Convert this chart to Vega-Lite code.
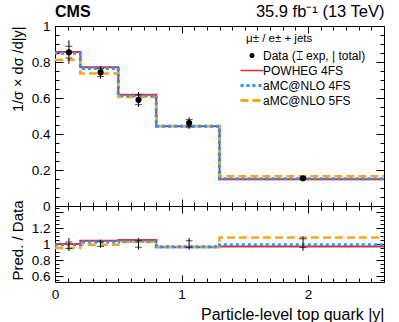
{
  "$schema": "https://vega.github.io/schema/vega-lite/v6.json",
  "padding": {"left": 9, "top": 3, "right": 5, "bottom": 5},
  "background": "white",
  "bounds": "flush",
  "config": {
    "font": "Liberation Sans",
    "view": {"stroke": "black", "strokeWidth": 1},
    "axis": {
      "domain": false, "grid": false, "tickColor": "black", "tickWidth": 1,
      "labelColor": "black", "titleColor": "black", "labelFontSize": 13.5, "titleFontSize": 14.5,
      "titleFontWeight": "normal", "labelFont": "Liberation Sans", "titleFont": "Liberation Sans",
      "labelOverlap": false, "labelFlush": false
    },
    "legend": {"labelFont": "Liberation Sans", "titleFont": "Liberation Sans"}
  },
  "datasets": {
    "main_pred": [
      {"series": "POWHEG 4FS", "x": 0, "y": 0.855}, {"series": "POWHEG 4FS", "x": 0.2, "y": 0.771},
      {"series": "POWHEG 4FS", "x": 0.5, "y": 0.618}, {"series": "POWHEG 4FS", "x": 0.8, "y": 0.443},
      {"series": "POWHEG 4FS", "x": 1.3, "y": 0.148}, {"series": "POWHEG 4FS", "x": 2.6, "y": 0.148},
      {"series": "aMC@NLO 4FS", "x": 0, "y": 0.848}, {"series": "aMC@NLO 4FS", "x": 0.2, "y": 0.764},
      {"series": "aMC@NLO 4FS", "x": 0.5, "y": 0.613}, {"series": "aMC@NLO 4FS", "x": 0.8, "y": 0.443},
      {"series": "aMC@NLO 4FS", "x": 1.3, "y": 0.151}, {"series": "aMC@NLO 4FS", "x": 2.6, "y": 0.151},
      {"series": "aMC@NLO 5FS", "x": 0, "y": 0.813}, {"series": "aMC@NLO 5FS", "x": 0.2, "y": 0.736},
      {"series": "aMC@NLO 5FS", "x": 0.5, "y": 0.606}, {"series": "aMC@NLO 5FS", "x": 0.8, "y": 0.445},
      {"series": "aMC@NLO 5FS", "x": 1.3, "y": 0.165}, {"series": "aMC@NLO 5FS", "x": 2.6, "y": 0.165}
    ],
    "main_data": [
      {"x": 0.11, "y": 0.854, "tlo": 0.79, "thi": 0.92, "elo": 0.822, "ehi": 0.887},
      {"x": 0.36, "y": 0.743, "tlo": 0.707, "thi": 0.776, "elo": 0.72, "ehi": 0.763},
      {"x": 0.66, "y": 0.59, "tlo": 0.55, "thi": 0.633, "elo": 0.563, "ehi": 0.618},
      {"x": 1.06, "y": 0.461, "tlo": 0.428, "thi": 0.493, "elo": 0.439, "ehi": 0.48},
      {"x": 1.96, "y": 0.154, "tlo": 0.146, "thi": 0.162, "elo": 0.15, "ehi": 0.158}
    ],
    "ratio_pred": [
      {"series": "POWHEG 4FS", "x": 0, "y": 1.005}, {"series": "POWHEG 4FS", "x": 0.2, "y": 1.045},
      {"series": "POWHEG 4FS", "x": 0.5, "y": 1.055}, {"series": "POWHEG 4FS", "x": 0.8, "y": 0.965},
      {"series": "POWHEG 4FS", "x": 1.3, "y": 0.975}, {"series": "POWHEG 4FS", "x": 2.6, "y": 0.975},
      {"series": "aMC@NLO 4FS", "x": 0, "y": 0.995}, {"series": "aMC@NLO 4FS", "x": 0.2, "y": 1.03},
      {"series": "aMC@NLO 4FS", "x": 0.5, "y": 1.04}, {"series": "aMC@NLO 4FS", "x": 0.8, "y": 0.97},
      {"series": "aMC@NLO 4FS", "x": 1.3, "y": 0.995}, {"series": "aMC@NLO 4FS", "x": 2.6, "y": 0.995},
      {"series": "aMC@NLO 5FS", "x": 0, "y": 0.955}, {"series": "aMC@NLO 5FS", "x": 0.2, "y": 0.995},
      {"series": "aMC@NLO 5FS", "x": 0.5, "y": 1.03}, {"series": "aMC@NLO 5FS", "x": 0.8, "y": 0.97},
      {"series": "aMC@NLO 5FS", "x": 1.3, "y": 1.085}, {"series": "aMC@NLO 5FS", "x": 2.6, "y": 1.085}
    ],
    "ratio_data": [
      {"x": 0.11, "y": 1, "tlo": 0.917, "thi": 1.08, "elo": 0.95, "ehi": 1.03},
      {"x": 0.36, "y": 1, "tlo": 0.957, "thi": 1.06, "elo": 0.975, "ehi": 1.03},
      {"x": 0.66, "y": 1, "tlo": 0.935, "thi": 1.08, "elo": 0.965, "ehi": 1.045},
      {"x": 1.06, "y": 1, "tlo": 0.935, "thi": 1.08, "elo": 0.965, "ehi": 1.045},
      {"x": 1.96, "y": 1, "tlo": 0.92, "thi": 1.1, "elo": 0.96, "ehi": 1.07}
    ]
  },
  "spacing": 0,
  "vconcat": [
    {
      "width": 329,
      "height": 180,
      "title": {"text": "CMS", "anchor": "start", "frame": "group", "fontSize": 16, "fontWeight": "bold", "font": "Liberation Sans", "offset": -16},
      "resolve": {"axis": {"x": "independent", "y": "independent"}},
      "layer": [
        {
          "data": {"name": "main_pred"},
          "transform": [{"filter": "datum.series === 'POWHEG 4FS'"}],
          "mark": {"type": "line", "interpolate": "step-after", "strokeWidth": 2},
          "encoding": {
            "x": {"field": "x", "type": "quantitative", "scale": {"domain": [0, 2.6], "nice": false, "zero": false},
              "axis": {"orient": "bottom", "title": null, "values": [0,0.1,0.2,0.3,0.4,0.5,0.6,0.7,0.8,0.9,1,1.1,1.2,1.3,1.4,1.5,1.6,1.7,1.8,1.9,2,2.1,2.2,2.3,2.4,2.5,2.6],
                "labels": false, "tickSize": {"condition": {"test": "datum.value % 1 === 0", "value": -7}, "value": -4}}},
            "y": {"field": "y", "type": "quantitative", "scale": {"domain": [0, 1], "nice": false, "zero": false},
              "axis": {"orient": "left", "title": "1/σ × dσ /d|y|", "titleAnchor": "end", "titlePadding": 6,
                "values": [0,0.05,0.1,0.15,0.2,0.25,0.3,0.35,0.4,0.45,0.5,0.55,0.6,0.65,0.7,0.75,0.8,0.85,0.9,0.95,1],
                "labelExpr": "abs(datum.value*5 - round(datum.value*5)) < 1e-6 ? format(datum.value, '~g') : ''",
                "labelPadding": 13,
                "tickSize": {"condition": {"test": "abs(datum.value*5 - round(datum.value*5)) < 1e-6", "value": -8}, "value": -4}}},
            "color": {"field": "series", "type": "nominal",
              "scale": {"domain": ["Data", "POWHEG 4FS", "aMC@NLO 4FS", "aMC@NLO 5FS"], "range": ["black", "#e42a2f", "#2b96f0", "#f9a61a"]},
              "legend": {
                "orient": "none", "legendX": 191, "legendY": 7, "title": "μ± / e± + jets",
                "titleFontSize": 11.5, "titleFontWeight": "normal", "titleColor": "black", "titlePadding": 5,
                "labelFontSize": 12, "labelColor": "black", "labelOffset": 5, "rowPadding": 3, "padding": 0,
                "symbolSize": 100,
                "labelExpr": "datum.value === 'Data' ? 'Data (⌶ exp, | total)' : datum.label",
                "encode": {"symbols": {"update": {
                  "shape": {"signal": "datum.value === 'Data' ? 'circle' : 'stroke'"},
                  "size": {"signal": "datum.value === 'Data' ? 25 : 529"},
                  "fill": {"signal": "datum.value === 'Data' ? 'black' : 'transparent'"},
                  "stroke": {"signal": "datum.value === 'Data' ? 'black' : datum.value === 'POWHEG 4FS' ? '#e42a2f' : datum.value === 'aMC@NLO 4FS' ? '#2b96f0' : '#f9a61a'"},
                  "strokeWidth": {"signal": "datum.value === 'Data' ? 0 : datum.value === 'POWHEG 4FS' ? 1.5 : 3"},
                  "strokeDash": {"signal": "datum.value === 'aMC@NLO 4FS' ? [3, 3] : datum.value === 'aMC@NLO 5FS' ? [8, 4] : [1, 0]"},
                  "opacity": {"value": 1}
                }}}
              }}
          }
        },
        {
          "data": {"name": "main_pred"},
          "transform": [{"filter": "datum.series === 'aMC@NLO 5FS'"}],
          "mark": {"type": "line", "interpolate": "step-after", "strokeWidth": 2.5, "strokeDash": [8, 4]},
          "encoding": {
            "x": {"field": "x", "type": "quantitative",
              "axis": {"orient": "top", "title": "35.9 fb⁻¹ (13 TeV)", "titleAnchor": "end", "titlePadding": 6, "titleFontSize": 16.5,
                "values": [0,0.1,0.2,0.3,0.4,0.5,0.6,0.7,0.8,0.9,1,1.1,1.2,1.3,1.4,1.5,1.6,1.7,1.8,1.9,2,2.1,2.2,2.3,2.4,2.5,2.6],
                "labels": false, "tickSize": {"condition": {"test": "datum.value % 1 === 0", "value": -7}, "value": -4}}},
            "y": {"field": "y", "type": "quantitative",
              "axis": {"orient": "right", "title": null, "labels": false,
                "values": [0,0.05,0.1,0.15,0.2,0.25,0.3,0.35,0.4,0.45,0.5,0.55,0.6,0.65,0.7,0.75,0.8,0.85,0.9,0.95,1],
                "tickSize": {"condition": {"test": "abs(datum.value*5 - round(datum.value*5)) < 1e-6", "value": -8}, "value": -4}}},
            "color": {"field": "series", "type": "nominal"}
          }
        },
        {
          "data": {"name": "main_pred"},
          "transform": [{"filter": "datum.series === 'aMC@NLO 4FS'"}],
          "mark": {"type": "line", "interpolate": "step-after", "strokeWidth": 3, "strokeDash": [3, 3]},
          "encoding": {
            "x": {"field": "x", "type": "quantitative", "axis": null},
            "y": {"field": "y", "type": "quantitative", "axis": null},
            "color": {"field": "series", "type": "nominal"}
          }
        },
        {
          "data": {"name": "main_data"},
          "mark": {"type": "rule", "color": "black", "strokeWidth": 1},
          "encoding": {
            "x": {"field": "x", "type": "quantitative", "axis": null},
            "y": {"field": "tlo", "type": "quantitative", "axis": null},
            "y2": {"field": "thi"}
          }
        },
        {
          "data": {"name": "main_data"},
          "mark": {"type": "tick", "orient": "horizontal", "color": "black", "size": 7, "thickness": 1},
          "encoding": {
            "x": {"field": "x", "type": "quantitative", "axis": null},
            "y": {"field": "elo", "type": "quantitative", "axis": null}
          }
        },
        {
          "data": {"name": "main_data"},
          "mark": {"type": "tick", "orient": "horizontal", "color": "black", "size": 7, "thickness": 1},
          "encoding": {
            "x": {"field": "x", "type": "quantitative", "axis": null},
            "y": {"field": "ehi", "type": "quantitative", "axis": null}
          }
        },
        {
          "data": {"name": "main_data"},
          "mark": {"type": "point", "shape": "circle", "filled": true, "size": 38, "opacity": 1},
          "encoding": {
            "x": {"field": "x", "type": "quantitative", "axis": null},
            "y": {"field": "y", "type": "quantitative", "axis": null},
            "color": {"datum": "Data", "type": "nominal"}
          }
        }
      ]
    },
    {
      "width": 329,
      "height": 76,
      "resolve": {"axis": {"x": "independent", "y": "independent"}},
      "layer": [
        {
          "mark": {"type": "rule", "color": "#333333", "strokeWidth": 1},
          "encoding": {
            "y": {"datum": 1, "type": "quantitative", "scale": {"domain": [0.53, 1.48], "nice": false, "zero": false},
              "axis": {"orient": "left", "title": "Pred. / Data", "titleAnchor": "end", "titlePadding": 6, "titleY": -6, "titleFontSize": 15,
                "values": [0.55,0.6,0.65,0.7,0.75,0.8,0.85,0.9,0.95,1,1.05,1.1,1.15,1.2,1.25,1.3,1.35,1.4,1.45],
                "labelExpr": "abs(datum.value*5 - round(datum.value*5)) < 1e-6 && datum.value < 1.3 ? format(datum.value, '~g') : ''",
                "labelPadding": 13,
                "tickSize": {"condition": {"test": "abs(datum.value*5 - round(datum.value*5)) < 1e-6", "value": -8}, "value": -4}}}
          }
        },
        {
          "data": {"name": "ratio_pred"},
          "transform": [{"filter": "datum.series === 'POWHEG 4FS'"}],
          "mark": {"type": "line", "interpolate": "step-after", "strokeWidth": 2},
          "encoding": {
            "x": {"field": "x", "type": "quantitative", "scale": {"domain": [0, 2.6], "nice": false, "zero": false},
              "axis": {"orient": "bottom", "title": "Particle-level top quark |y|", "titleAnchor": "end", "titlePadding": 3, "titleFontSize": 16,
                "values": [0,0.1,0.2,0.3,0.4,0.5,0.6,0.7,0.8,0.9,1,1.1,1.2,1.3,1.4,1.5,1.6,1.7,1.8,1.9,2,2.1,2.2,2.3,2.4,2.5,2.6],
                "labelExpr": "datum.value % 1 === 0 ? format(datum.value, 'd') : ''", "labelPadding": 12,
                "tickSize": {"condition": {"test": "datum.value % 1 === 0", "value": -7}, "value": -4}}},
            "y": {"field": "y", "type": "quantitative",
              "axis": {"orient": "right", "title": null, "labels": false,
                "values": [0.55,0.6,0.65,0.7,0.75,0.8,0.85,0.9,0.95,1,1.05,1.1,1.15,1.2,1.25,1.3,1.35,1.4,1.45],
                "tickSize": {"condition": {"test": "abs(datum.value*5 - round(datum.value*5)) < 1e-6", "value": -8}, "value": -4}}},
            "color": {"field": "series", "type": "nominal", "legend": null}
          }
        },
        {
          "data": {"name": "ratio_pred"},
          "transform": [{"filter": "datum.series === 'aMC@NLO 5FS'"}],
          "mark": {"type": "line", "interpolate": "step-after", "strokeWidth": 2.5, "strokeDash": [8, 4]},
          "encoding": {
            "x": {"field": "x", "type": "quantitative",
              "axis": {"orient": "top", "title": null, "labels": false,
                "values": [0,0.1,0.2,0.3,0.4,0.5,0.6,0.7,0.8,0.9,1,1.1,1.2,1.3,1.4,1.5,1.6,1.7,1.8,1.9,2,2.1,2.2,2.3,2.4,2.5,2.6],
                "tickSize": {"condition": {"test": "datum.value % 1 === 0", "value": -7}, "value": -4}}},
            "y": {"field": "y", "type": "quantitative", "axis": null},
            "color": {"field": "series", "type": "nominal", "legend": null}
          }
        },
        {
          "data": {"name": "ratio_pred"},
          "transform": [{"filter": "datum.series === 'aMC@NLO 4FS'"}],
          "mark": {"type": "line", "interpolate": "step-after", "strokeWidth": 3, "strokeDash": [3, 3]},
          "encoding": {
            "x": {"field": "x", "type": "quantitative", "axis": null},
            "y": {"field": "y", "type": "quantitative", "axis": null},
            "color": {"field": "series", "type": "nominal", "legend": null}
          }
        },
        {
          "data": {"name": "ratio_data"},
          "mark": {"type": "rule", "color": "black", "strokeWidth": 1},
          "encoding": {
            "x": {"field": "x", "type": "quantitative", "axis": null},
            "y": {"field": "tlo", "type": "quantitative", "axis": null},
            "y2": {"field": "thi"}
          }
        },
        {
          "data": {"name": "ratio_data"},
          "mark": {"type": "tick", "orient": "horizontal", "color": "black", "size": 7, "thickness": 1},
          "encoding": {
            "x": {"field": "x", "type": "quantitative", "axis": null},
            "y": {"field": "elo", "type": "quantitative", "axis": null}
          }
        },
        {
          "data": {"name": "ratio_data"},
          "mark": {"type": "tick", "orient": "horizontal", "color": "black", "size": 7, "thickness": 1},
          "encoding": {
            "x": {"field": "x", "type": "quantitative", "axis": null},
            "y": {"field": "ehi", "type": "quantitative", "axis": null}
          }
        }
      ]
    }
  ]
}
